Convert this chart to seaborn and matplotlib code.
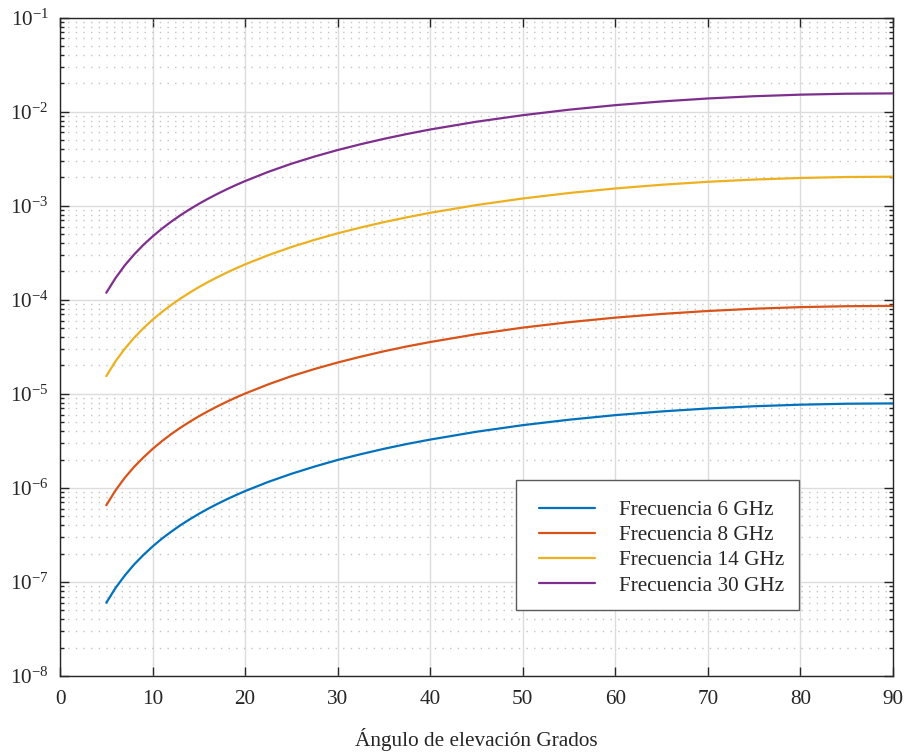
import numpy as np
import pandas as pd
import matplotlib
matplotlib.use("Agg")
import matplotlib.pyplot as plt
from matplotlib.lines import Line2D
from matplotlib.patches import Rectangle
from matplotlib.legend_handler import HandlerLine2D
from matplotlib.ticker import LogLocator, FixedLocator, FixedFormatter, NullFormatter
import seaborn as sns

# Elevation angle (degrees)
angulo = [5, 6, 7, 8, 9, 10, 11, 12, 13, 14, 15, 16, 17, 18, 19, 20,
          22.5, 25, 27.5, 30, 32.5, 35, 37.5, 40, 45, 50, 55, 60, 65, 70,
          75, 80, 85, 90]

f6 = [6.0e-8, 8.63e-8, 1.17e-7, 1.53e-7, 1.93e-7, 2.38e-7, 2.88e-7, 3.41e-7,
      4.00e-7, 4.62e-7, 5.29e-7, 6.0e-7, 6.75e-7, 7.54e-7, 8.37e-7, 9.24e-7,
      1.157e-6, 1.41e-6, 1.684e-6, 1.98e-6, 2.28e-6, 2.60e-6, 2.93e-6, 3.26e-6,
      3.95e-6, 4.64e-6, 5.30e-6, 5.93e-6, 6.49e-6, 6.98e-6, 7.37e-6, 7.66e-6,
      7.84e-6, 7.90e-6]
f8 = [6.53e-7, 9.40e-7, 1.28e-6, 1.67e-6, 2.10e-6, 2.59e-6, 3.13e-6, 3.72e-6,
      4.35e-6, 5.03e-6, 5.76e-6, 6.53e-6, 7.35e-6, 8.21e-6, 9.12e-6, 1.006e-5,
      1.259e-5, 1.54e-5, 1.834e-5, 2.15e-5, 2.48e-5, 2.83e-5, 3.19e-5, 3.55e-5,
      4.30e-5, 5.05e-5, 5.77e-5, 6.45e-5, 7.06e-5, 7.59e-5, 8.02e-5, 8.34e-5,
      8.53e-5, 8.60e-5]
f14 = [1.54e-5, 2.22e-5, 3.01e-5, 3.93e-5, 4.97e-5, 6.12e-5, 7.39e-5, 8.78e-5,
       1.027e-4, 1.188e-4, 1.360e-4, 1.542e-4, 1.735e-4, 1.938e-4, 2.152e-4,
       2.375e-4, 2.973e-4, 3.63e-4, 4.328e-4, 5.08e-4, 5.86e-4, 6.68e-4,
       7.52e-4, 8.39e-4, 1.015e-3, 1.191e-3, 1.362e-3, 1.523e-3, 1.667e-3,
       1.793e-3, 1.894e-3, 1.969e-3, 2.015e-3, 2.03e-3]
f30 = [1.185e-4, 1.70e-4, 2.32e-4, 3.02e-4, 3.82e-4, 4.70e-4, 5.68e-4, 6.74e-4,
       7.89e-4, 9.13e-4, 1.045e-3, 1.185e-3, 1.333e-3, 1.490e-3, 1.654e-3,
       1.825e-3, 2.285e-3, 2.79e-3, 3.326e-3, 3.90e-3, 4.50e-3, 5.13e-3,
       5.78e-3, 6.45e-3, 7.80e-3, 9.15e-3, 1.047e-2, 1.170e-2, 1.281e-2,
       1.378e-2, 1.456e-2, 1.513e-2, 1.548e-2, 1.56e-2]

etiquetas = ["Frecuencia 6 GHz", "Frecuencia 8 GHz",
             "Frecuencia 14 GHz", "Frecuencia 30 GHz"]
colores = ["#0072BD", "#D95319", "#EDB120", "#7E2F8E"]

xticks = [0, 10, 20, 30, 40, 50, 60, 70, 80, 90]
yticks = [1e-8, 1e-7, 1e-6, 1e-5, 1e-4, 1e-3, 1e-2, 1e-1]
yticklabels = [r"$10^{-8}$", r"$10^{-7}$", r"$10^{-6}$", r"$10^{-5}$",
               r"$10^{-4}$", r"$10^{-3}$", r"$10^{-2}$", r"$10^{-1}$"]
xlabel = "Ángulo de elevación Grados"

df = pd.concat([
    pd.DataFrame({"angulo": angulo, "valor": v, "serie": lab})
    for v, lab in zip([f6, f8, f14, f30], etiquetas)
], ignore_index=True)

sns.set_theme(style="ticks")
plt.rcParams["font.family"] = ["Liberation Serif", "DejaVu Serif"]
plt.rcParams["mathtext.default"] = "regular"
plt.rcParams["mathtext.fontset"] = "custom"
plt.rcParams["mathtext.rm"] = "Liberation Serif"

FS = 15.3
INK = "#262626"
W, H = 906, 753

fig = plt.figure(figsize=(W / 100, H / 100), dpi=100)
ax = fig.add_axes([60 / W, 1 - 676 / H, 833 / W, 658.5 / H])

sns.lineplot(data=df, x="angulo", y="valor", hue="serie", hue_order=etiquetas,
             palette=colores, linewidth=1.6, ax=ax, legend=False, zorder=3)

ax.set_yscale("log")
ax.set_xlim(0, 90)
ax.set_ylim(1e-8, 1e-1)

ax.xaxis.set_major_locator(FixedLocator(xticks))
ax.yaxis.set_major_locator(FixedLocator(yticks))
ax.yaxis.set_major_formatter(FixedFormatter(yticklabels))
ax.yaxis.set_minor_locator(LogLocator(base=10, subs=np.arange(2, 10), numticks=20))
ax.yaxis.set_minor_formatter(NullFormatter())

ax.grid(True, which="major", color="#dcdcdc", linewidth=1.0, linestyle="-", zorder=0)
ax.grid(True, which="minor", axis="y", color="#c4c4c4", linewidth=1.0,
        linestyle=(0, (1, 4.5)), zorder=0)
ax.set_axisbelow(True)

for s in ax.spines.values():
    s.set_visible(True)
    s.set_color(INK)
    s.set_linewidth(1.0)

ax.tick_params(which="major", direction="in", length=6.5, width=1.0,
               color=INK, top=True, right=True, labelsize=FS,
               labelcolor=INK)
ax.tick_params(axis="x", which="major", pad=10)
ax.tick_params(axis="y", which="major", pad=8)
ax.tick_params(which="minor", direction="in", length=3.2, width=1.0,
               color=INK, top=False, right=True, left=True)

ax.set_xlabel(xlabel, fontsize=FS, color=INK, labelpad=13.5)
ax.set_ylabel("")

# Legend box (frame drawn separately so the entries sit a little lower)
box = Rectangle((516 / W, 1 - 609.5 / H), 283 / W, 129.5 / H,
                transform=fig.transFigure, facecolor="white",
                edgecolor="#5a5a5a", linewidth=1.0, zorder=5)
fig.add_artist(box)

handles = [Line2D([], [], color=c, linewidth=1.6) for c in colores]
leg = fig.legend(handles, etiquetas, loc="upper left",
                 bbox_to_anchor=(516 / W, 1 - 483.5 / H),
                 bbox_transform=fig.transFigure, fontsize=FS, frameon=False,
                 handlelength=3.24, handletextpad=0.83, labelspacing=0.25,
                 borderpad=0.78, borderaxespad=0,
                 handler_map={Line2D: HandlerLine2D(numpoints=2, marker_pad=0.3)})
leg.set_zorder(6)
for t in leg.get_texts():
    t.set_color(INK)

fig.savefig("out.png", dpi=100, facecolor="white")
